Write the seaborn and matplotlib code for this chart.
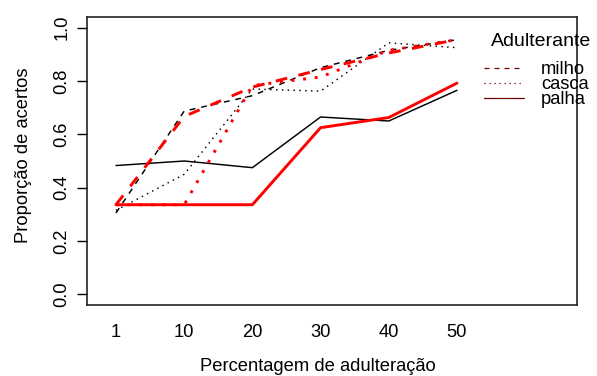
import numpy as np
import pandas as pd
import matplotlib
matplotlib.use('Agg')
import matplotlib.pyplot as plt
from matplotlib.lines import Line2D
import seaborn as sns

# percentagem de adulteração (níveis do factor)
niveis = ['1', '10', '20', '30', '40', '50']
adulterantes = ['milho', 'casca', 'palha']

# proporção de acertos - série preta
preto_milho = [0.305, 0.687, 0.745, 0.850, 0.915, 0.955]
preto_casca = [0.315, 0.450, 0.770, 0.762, 0.943, 0.925]
preto_palha = [0.483, 0.500, 0.475, 0.665, 0.650, 0.765]
# proporção de acertos - série vermelha
verm_milho = [0.336, 0.667, 0.777, 0.843, 0.905, 0.955]
verm_casca = [0.336, 0.336, 0.783, 0.815, 0.915, 0.955]
verm_palha = [0.336, 0.336, 0.336, 0.625, 0.663, 0.792]

series = {
    ('preto', 'milho'): preto_milho,
    ('preto', 'casca'): preto_casca,
    ('preto', 'palha'): preto_palha,
    ('vermelho', 'milho'): verm_milho,
    ('vermelho', 'casca'): verm_casca,
    ('vermelho', 'palha'): verm_palha,
}
linhas = []
for (grupo, adult), vals in series.items():
    for i, v in enumerate(vals):
        linhas.append({'grupo': grupo, 'adulterante': adult,
                       'pos': i + 1, 'prop': v})
df = pd.DataFrame(linhas)

sns.set_style('white')
plt.rcParams['font.family'] = ['Liberation Sans', 'DejaVu Sans']
plt.rcParams['text.color'] = 'black'
plt.rcParams['axes.labelcolor'] = 'black'
plt.rcParams['xtick.color'] = 'black'
plt.rcParams['ytick.color'] = 'black'

fs = 13.2
fig = plt.figure(figsize=(5.97, 3.76), dpi=100)
ax = fig.add_axes([87 / 597, 1 - 305 / 376, 490 / 597, 288 / 376])

sns.lineplot(data=df, x='pos', y='prop', hue='grupo', style='adulterante',
             size='grupo', sizes={'preto': 1.05, 'vermelho': 2.1},
             palette={'preto': 'black', 'vermelho': '#ff0000'},
             dashes={'milho': (4, 4), 'casca': (1, 3), 'palha': ''},
             style_order=adulterantes, legend=False, ax=ax)

ax.set_xlim(0.575, 7.76)
ax.set_ylim(-0.04, 1.04)
ax.set_xticks(range(1, len(niveis) + 1))
ax.set_xticklabels(niveis, fontsize=fs)
ax.set_yticks([0.0, 0.2, 0.4, 0.6, 0.8, 1.0])
ax.set_yticklabels(['0.0', '0.2', '0.4', '0.6', '0.8', '1.0'],
                   fontsize=fs, rotation=90, va='center')
ax.tick_params(axis='x', length=0, pad=14)
ax.tick_params(axis='y', length=7, width=1, pad=5, left=True)
for s in ax.spines.values():
    s.set_color('#222222')
    s.set_linewidth(1.2)
ax.set_xlabel('Percentagem de adulteração', fontsize=fs)
ax.xaxis.set_label_coords(0.471, -0.185)
ax.set_ylabel('Proporção de acertos', fontsize=fs)
ax.yaxis.set_label_coords(-0.112, 0.52)

fig.text(491 / 597, 1 - 42 / 376, 'Adulterante', fontsize=14, va='center')
handles = [Line2D([], [], color='#6e0000', lw=0.9, linestyle=(0, (4, 4))),
           Line2D([], [], color='#6e0000', lw=0.9, linestyle=(0, (1, 3))),
           Line2D([], [], color='#6e0000', lw=0.9, linestyle='-')]
leg = fig.legend(handles, adulterantes,
                 loc='upper left', bbox_to_anchor=(484 / 597, 1 - 61 / 376),
                 frameon=False, fontsize=fs,
                 handlelength=2.2, handletextpad=0.9, labelspacing=-0.1,
                 borderpad=0, borderaxespad=0)

fig.savefig('out.png', dpi=100)
